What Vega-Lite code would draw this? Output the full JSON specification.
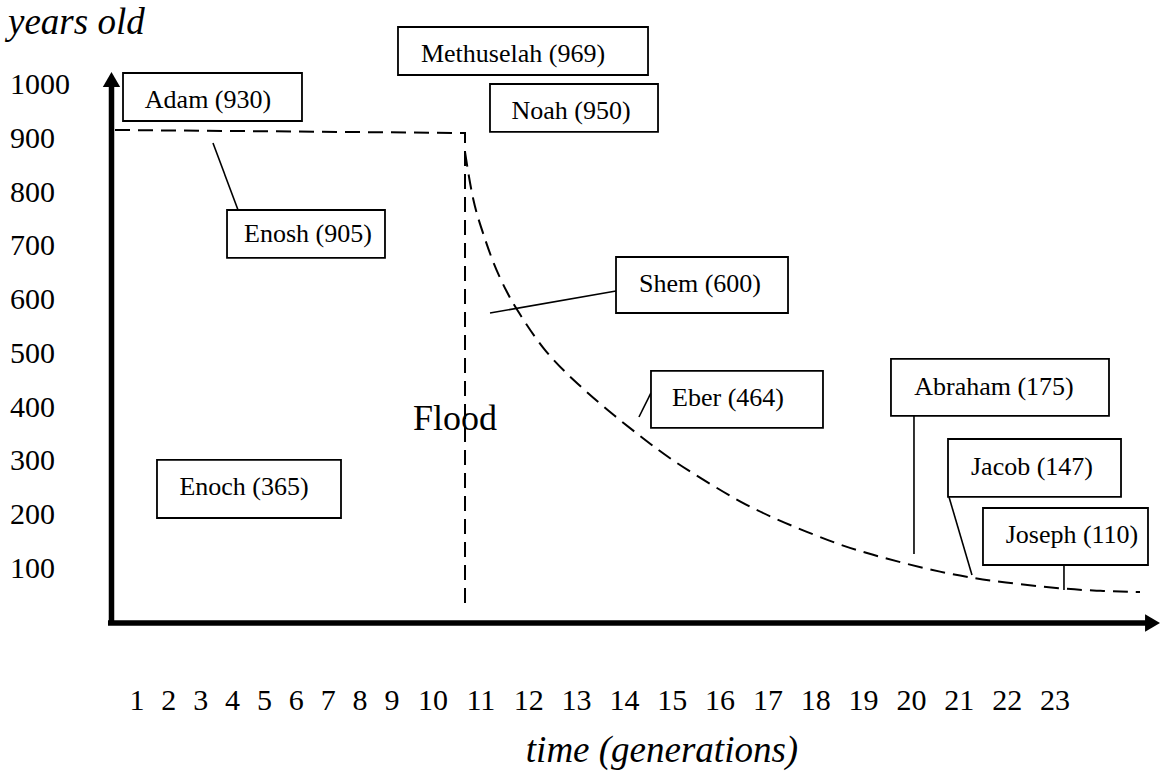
{
  "$schema": "https://vega.github.io/schema/vega-lite/v6.json",
  "width": 1160,
  "height": 780,
  "autosize": {"type": "fit", "contains": "padding"},
  "padding": 0,
  "background": "white",
  "config": {"view": {"stroke": null}},
  "datasets": {
    "axes": [
      {"axis": "y", "x": 0.2, "y": 12.7, "x2": 0.2, "y2": 1022.3},
      {"axis": "x", "x": 0.09, "y": 16.4, "x2": 24.985, "y2": 16.4}
    ],
    "arrowUp": [{"x": 0.2, "y": 1027.2}],
    "arrowRight": [{"x": 25.04, "y": 16.4}],
    "floodPath": [
      {"i": 1, "x": 0.31, "y": 933.1},
      {"i": 2, "x": 10.669, "y": 927.5},
      {"i": 3, "x": 10.669, "y": 40.6}
    ],
    "lifespanCurve": [
      {"i": 1, "x": 10.669, "y": 892.2},
      {"i": 2, "x": 10.836, "y": 797.3},
      {"i": 3, "x": 11.045, "y": 741.6},
      {"i": 4, "x": 11.254, "y": 685.8},
      {"i": 5, "x": 11.547, "y": 630.0},
      {"i": 6, "x": 11.756, "y": 598.4},
      {"i": 7, "x": 12.299, "y": 524.0},
      {"i": 8, "x": 12.926, "y": 468.2},
      {"i": 9, "x": 13.637, "y": 412.4},
      {"i": 10, "x": 14.431, "y": 356.7},
      {"i": 11, "x": 15.016, "y": 317.6},
      {"i": 12, "x": 15.727, "y": 278.6},
      {"i": 13, "x": 16.416, "y": 241.4},
      {"i": 14, "x": 17.106, "y": 211.6},
      {"i": 15, "x": 17.817, "y": 185.6},
      {"i": 16, "x": 18.506, "y": 161.4},
      {"i": 17, "x": 19.196, "y": 142.8},
      {"i": 18, "x": 19.907, "y": 126.1},
      {"i": 19, "x": 20.597, "y": 111.2},
      {"i": 20, "x": 21.286, "y": 100.1},
      {"i": 21, "x": 21.851, "y": 92.6},
      {"i": 22, "x": 23.167, "y": 79.6},
      {"i": 23, "x": 23.941, "y": 75.9},
      {"i": 24, "x": 24.777, "y": 74.0}
    ],
    "connectors": [
      {"who": "Enosh", "x": 3.384, "y": 908.9, "x2": 4.169, "y2": 784.3},
      {"who": "Shem", "x": 11.191, "y": 592.8, "x2": 13.825, "y2": 633.7},
      {"who": "Eber", "x": 14.305, "y": 399.4, "x2": 14.556, "y2": 444.1},
      {"who": "Abraham", "x": 20.053, "y": 401.3, "x2": 20.053, "y2": 144.7},
      {"who": "Jacob", "x": 20.785, "y": 250.7, "x2": 21.265, "y2": 105.6},
      {"who": "Joseph", "x": 23.188, "y": 124.2, "x2": 23.188, "y2": 77.8}
    ],
    "boxes": [
      {"who": "Adam", "x": 0.561, "x2": 6.176, "y": 1039.1, "y2": 949.8},
      {"who": "Methuselah", "x": 9.146, "x2": 14.494, "y": 1124.6, "y2": 1035.3},
      {"who": "Noah", "x": 11.191, "x2": 14.703, "y": 1018.6, "y2": 929.4},
      {"who": "Enosh", "x": 3.824, "x2": 8.78, "y": 784.3, "y2": 695.1},
      {"who": "Shem", "x": 13.825, "x2": 17.42, "y": 696.9, "y2": 592.8},
      {"who": "Eber", "x": 14.556, "x2": 18.151, "y": 485.0, "y2": 379.0},
      {"who": "Abraham", "x": 19.572, "x2": 24.129, "y": 507.3, "y2": 401.3},
      {"who": "Jacob", "x": 20.764, "x2": 24.38, "y": 358.5, "y2": 250.7},
      {"who": "Joseph", "x": 21.495, "x2": 24.944, "y": 230.2, "y2": 124.2},
      {"who": "Enoch", "x": 1.627, "x2": 7.4, "y": 319.5, "y2": 211.6}
    ],
    "names": [
      {"label": "Adam (930)", "x": 3.227, "y": 974.0},
      {"label": "Methuselah (969)", "x": 11.672, "y": 1059.5},
      {"label": "Noah (950)", "x": 12.884, "y": 953.5},
      {"label": "Enosh (905)", "x": 6.365, "y": 724.8},
      {"label": "Shem (600)", "x": 15.58, "y": 631.9},
      {"label": "Eber (464)", "x": 16.166, "y": 419.9},
      {"label": "Abraham (175)", "x": 21.725, "y": 440.3},
      {"label": "Jacob (147)", "x": 22.519, "y": 291.6},
      {"label": "Joseph (110)", "x": 23.355, "y": 165.1},
      {"label": "Enoch (365)", "x": 4.357, "y": 254.4}
    ],
    "flood": [{"label": "Flood", "x": 10.46, "y": 375.3}],
    "yTicks": [
      {"label": "1000", "x": -2.984, "y": 1000},
      {"label": "900", "x": -2.984, "y": 900},
      {"label": "800", "x": -2.984, "y": 800},
      {"label": "700", "x": -2.984, "y": 700},
      {"label": "600", "x": -2.984, "y": 600},
      {"label": "500", "x": -2.984, "y": 500},
      {"label": "400", "x": -2.984, "y": 400},
      {"label": "300", "x": -2.984, "y": 300},
      {"label": "200", "x": -2.984, "y": 200},
      {"label": "100", "x": -2.984, "y": 100}
    ],
    "xTicks": [
      {"label": "1", "x": 1, "y": -145.4},
      {"label": "2", "x": 2, "y": -145.4},
      {"label": "3", "x": 3, "y": -145.4},
      {"label": "4", "x": 4, "y": -145.4},
      {"label": "5", "x": 5, "y": -145.4},
      {"label": "6", "x": 6, "y": -145.4},
      {"label": "7", "x": 7, "y": -145.4},
      {"label": "8", "x": 8, "y": -145.4},
      {"label": "9", "x": 9, "y": -145.4},
      {"label": "10", "x": 10, "y": -145.4},
      {"label": "11", "x": 11, "y": -145.4},
      {"label": "12", "x": 12, "y": -145.4},
      {"label": "13", "x": 13, "y": -145.4},
      {"label": "14", "x": 14, "y": -145.4},
      {"label": "15", "x": 15, "y": -145.4},
      {"label": "16", "x": 16, "y": -145.4},
      {"label": "17", "x": 17, "y": -145.4},
      {"label": "18", "x": 18, "y": -145.4},
      {"label": "19", "x": 19, "y": -145.4},
      {"label": "20", "x": 20, "y": -145.4},
      {"label": "21", "x": 21, "y": -145.4},
      {"label": "22", "x": 22, "y": -145.4},
      {"label": "23", "x": 23, "y": -145.4}
    ],
    "titles": [
      {"label": "years old", "x": -3.047, "y": 1111.6}
    ],
    "xTitle": [
      {"label": "time (generations)", "x": 14.786, "y": -242.1}
    ]
  },
  "encoding": {
    "x": {"field": "x", "type": "quantitative", "axis": null,
      "scale": {"domain": [-3.298, 9, 10, 25.195], "range": [0, 392, 433, 1160], "nice": false, "zero": false}},
    "y": {"field": "y", "type": "quantitative", "axis": null,
      "scale": {"domain": [-275.6, 1174.8], "range": [780, 0], "nice": false, "zero": false}}
  },
  "layer": [
    {
      "data": {"name": "floodPath"},
      "mark": {"type": "line", "color": "black", "strokeWidth": 2, "strokeDash": [15, 8]},
      "encoding": {"order": {"field": "i", "type": "quantitative"}}
    },
    {
      "data": {"name": "lifespanCurve"},
      "mark": {"type": "line", "color": "black", "strokeWidth": 2, "strokeDash": [15, 8], "interpolate": "basis"},
      "encoding": {"order": {"field": "i", "type": "quantitative"}}
    },
    {
      "data": {"name": "connectors"},
      "mark": {"type": "rule", "color": "black", "strokeWidth": 1.6},
      "encoding": {"x2": {"field": "x2"}, "y2": {"field": "y2"}}
    },
    {
      "data": {"name": "boxes"},
      "mark": {"type": "rect", "fill": "white", "stroke": "black", "strokeWidth": 1.8},
      "encoding": {"x2": {"field": "x2"}, "y2": {"field": "y2"}}
    },
    {
      "data": {"name": "names"},
      "mark": {"type": "text", "font": "Liberation Serif", "fontSize": 26, "align": "center", "baseline": "alphabetic", "color": "black"},
      "encoding": {"text": {"field": "label"}}
    },
    {
      "data": {"name": "flood"},
      "mark": {"type": "text", "font": "Liberation Serif", "fontSize": 36, "align": "center", "baseline": "alphabetic", "color": "black"},
      "encoding": {"text": {"field": "label"}}
    },
    {
      "data": {"name": "axes"},
      "mark": {"type": "rule", "color": "black", "strokeWidth": 5.5, "strokeCap": "butt"},
      "encoding": {"x2": {"field": "x2"}, "y2": {"field": "y2"}}
    },
    {
      "data": {"name": "arrowUp"},
      "mark": {"type": "point", "shape": "triangle-up", "filled": true, "color": "black", "size": 300, "opacity": 1}
    },
    {
      "data": {"name": "arrowRight"},
      "mark": {"type": "point", "shape": "triangle-right", "filled": true, "color": "black", "size": 300, "opacity": 1}
    },
    {
      "data": {"name": "yTicks"},
      "mark": {"type": "text", "font": "Liberation Serif", "fontSize": 30, "align": "left", "baseline": "alphabetic", "color": "black"},
      "encoding": {"text": {"field": "label"}}
    },
    {
      "data": {"name": "xTicks"},
      "mark": {"type": "text", "font": "Liberation Serif", "fontSize": 30, "align": "center", "baseline": "alphabetic", "color": "black"},
      "encoding": {"text": {"field": "label"}}
    },
    {
      "data": {"name": "titles"},
      "mark": {"type": "text", "font": "Liberation Serif", "fontSize": 37, "fontStyle": "italic", "align": "left", "baseline": "alphabetic", "color": "black"},
      "encoding": {"text": {"field": "label"}}
    },
    {
      "data": {"name": "xTitle"},
      "mark": {"type": "text", "font": "Liberation Serif", "fontSize": 37, "fontStyle": "italic", "align": "center", "baseline": "alphabetic", "color": "black"},
      "encoding": {"text": {"field": "label"}}
    }
  ]
}
